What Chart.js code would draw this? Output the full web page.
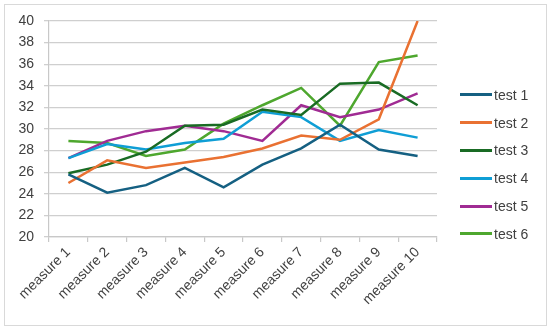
<!DOCTYPE html>
<html>
<head>
<meta charset="utf-8">
<script src="https://cdn.jsdelivr.net/npm/chart.js@4/dist/chart.umd.min.js"></script>
<style>
    body { margin: 0; background: #fff; }
    #wrap { position: relative; width: 550px; height: 329px; }
    #frame { position: absolute; left: 4px; top: 4px; width: 541px; height: 320px; border: 1px solid #d9d9d9; pointer-events: none; }
    #legend { position: absolute; left: 460px; top: 81px; font-family: "Liberation Sans", Arial, sans-serif; font-size: 14px; color: #404040; }
    .item { height: 27.8px; display: flex; align-items: center; }
    .item .ln { width: 32px; height: 3px; margin-right: 2px; }
</style>
</head>
<body>
<div id="wrap">
    <canvas id="chart" width="550" height="329"></canvas>
    <div id="frame"></div>
    <div id="legend"></div>
</div>
<script>
// Kategorien und Messwerte
const labels = ['measure 1', 'measure 2', 'measure 3', 'measure 4', 'measure 5',
                'measure 6', 'measure 7', 'measure 8', 'measure 9', 'measure 10'];
const seriesNames = ['test 1', 'test 2', 'test 3', 'test 4', 'test 5', 'test 6'];
const test1 = [25.8, 24.1, 24.8, 26.4, 24.6, 26.7, 28.2, 30.4, 28.1, 27.5];
const test2 = [25.0, 27.1, 26.4, 26.9, 27.4, 28.2, 29.4, 29.0, 30.9, 40.0];
const test3 = [25.9, 26.7, 27.9, 30.3, 30.4, 31.8, 31.3, 34.2, 34.3, 32.2];
const test4 = [27.3, 28.6, 28.1, 28.7, 29.1, 31.6, 31.1, 28.9, 29.9, 29.2];
const test5 = [27.3, 28.9, 29.8, 30.3, 29.8, 28.9, 32.2, 31.1, 31.8, 33.3];
const test6 = [28.9, 28.7, 27.5, 28.1, 30.5, 32.2, 33.8, 30.3, 36.2, 36.8];
const colors = ['#156082', '#E97132', '#196B24', '#0F9ED5', '#A02B93', '#4EA72E'];

const allData = [test1, test2, test3, test4, test5, test6];
const font = { family: '"Liberation Sans", Arial, sans-serif', size: 14 };

const chart = new Chart(document.getElementById('chart'), {
    type: 'line',
    data: {
        labels: labels,
        datasets: allData.map((d, i) => ({
            label: seriesNames[i],
            data: d,
            borderColor: colors[i],
            borderWidth: 2.5,
            pointRadius: 0,
            tension: 0,
            fill: false
        }))
    },
    options: {
        responsive: false,
        animation: false,
        layout: { padding: { top: 21, left: 18, right: 113, bottom: 22 } },
        plugins: {
            legend: { display: false },
            tooltip: { enabled: false }
        },
        scales: {
            x: {
                offset: true,
                grid: { offset: true, drawOnChartArea: false, drawTicks: true, tickLength: 5, color: '#c8c8c8', lineWidth: 1.2 },
                border: { color: '#c8c8c8', width: 1.2 },
                ticks: { color: '#404040', font: font, minRotation: 45, maxRotation: 45, padding: 2 },
                afterFit: s => { s.paddingLeft = 0; s.height = 70; }
            },
            y: {
                min: 20,
                max: 40,
                ticks: { stepSize: 2, color: '#404040', font: font, padding: 10 },
                grid: { color: '#cfcfcf', lineWidth: 1.3, tickLength: 5 },
                border: { color: '#c8c8c8', width: 1.2 },
                afterFit: s => { s.width = 31; }
            }
        }
    }
});

// HTML Legende
const legend = document.getElementById('legend');
seriesNames.forEach((name, i) => {
    const row = document.createElement('div');
    row.className = 'item';
    row.innerHTML = '<span class="ln" style="background:' + colors[i] + '"></span><span>' + name + '</span>';
    legend.appendChild(row);
});
</script>
</body>
</html>
